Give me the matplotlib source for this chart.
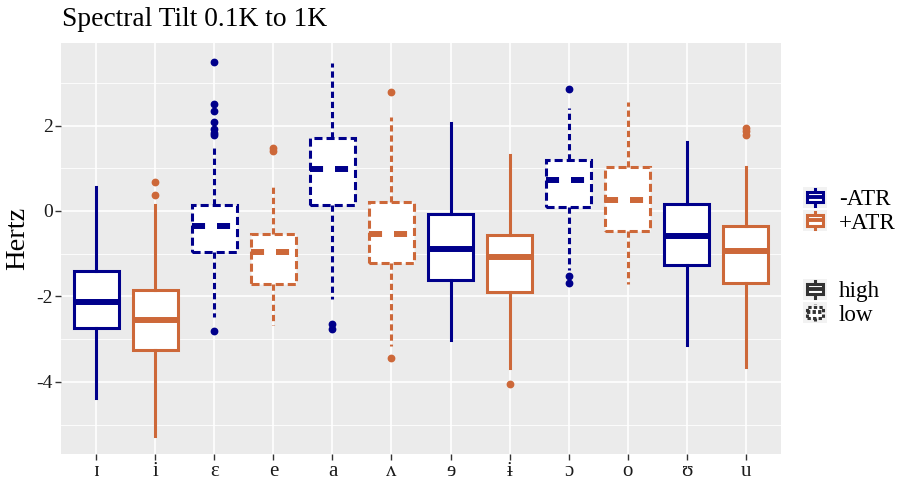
import matplotlib
matplotlib.use("Agg")
import matplotlib.pyplot as plt
from matplotlib.legend_handler import HandlerBase
from matplotlib.patches import Rectangle
from matplotlib.lines import Line2D

plt.rcParams['font.family'] = ['Liberation Serif', 'DejaVu Serif']
plt.rcParams['lines.scale_dashes'] = False

# ---------------- data ----------------
vowels = ['ɪ', 'i', 'ɛ', 'e', 'a', 'ʌ', 'ɘ', 'ɨ', 'ɔ', 'o', 'ʊ', 'u']
atr = ['-ATR', '+ATR', '-ATR', '+ATR', '-ATR', '+ATR',
       '-ATR', '+ATR', '-ATR', '+ATR', '-ATR', '+ATR']
height = ['high', 'high', 'low', 'low', 'low', 'low',
          'high', 'high', 'low', 'low', 'high', 'high']
whislo = [-4.39, -5.27, -2.49, -2.68, -2.05, -3.15, -3.01, -3.68, -1.39, -1.70, -3.13, -3.66]
q1 = [-2.74, -3.25, -0.96, -1.72, 0.13, -1.21, -1.61, -1.90, 0.10, -0.47, -1.26, -1.68]
med = [-2.13, -2.56, -0.35, -0.97, 0.98, -0.53, -0.89, -1.07, 0.72, 0.26, -0.58, -0.94]
q3 = [-1.40, -1.86, 0.13, -0.53, 1.70, 0.20, -0.07, -0.56, 1.19, 1.04, 0.16, -0.35]
whishi = [0.55, 0.14, 1.55, 0.57, 3.46, 2.20, 2.06, 1.32, 2.42, 2.55, 1.61, 1.02]
fliers = [
    [],
    [0.67, 0.38],
    [3.49, 2.51, 2.34, 2.08, 1.91, 1.82, 1.77, -2.82],
    [1.47, 1.40],
    [-2.64, -2.76],
    [2.79, -3.44],
    [],
    [-4.04],
    [2.85, -1.52, -1.69],
    [],
    [],
    [1.95, 1.87, 1.78],
]
yticks = [-4, -2, 0, 2]

colors = {'-ATR': '#00008B', '+ATR': '#CD6839'}
box_dash = (0, (5.8, 2.9))
whisk_dash = (0, (4.5, 2.8))
med_dash = (0, (9.4, 8.6))

fig = plt.figure(figsize=(8.99, 4.80), dpi=100)
ax = fig.add_axes([61/899, 1-454/480, (781-61)/899, (454-42.7)/480])
ax.set_facecolor('#EBEBEB')
for s in ax.spines.values():
    s.set_visible(False)

for k in range(len(vowels)):
    c = colors[atr[k]]
    low = height[k] == 'low'
    st = dict(med=med[k], q1=q1[k], q3=q3[k], whislo=whislo[k], whishi=whishi[k],
              fliers=fliers[k])
    ax.bxp([st], positions=[k + 1], widths=0.75, patch_artist=True, showcaps=False,
           boxprops=dict(facecolor='white', edgecolor=c, linewidth=2.2,
                         linestyle=box_dash if low else '-'),
           whiskerprops=dict(color=c, linewidth=2.2,
                             linestyle=whisk_dash if low else '-'),
           medianprops=dict(color=c, linewidth=4.3,
                            linestyle=med_dash if low else '-', solid_capstyle='butt'),
           flierprops=dict(marker='o', markerfacecolor=c, markeredgecolor=c,
                           markersize=4.6, linestyle='none'),
           zorder=3)

ax.set_xlim(0.4, 12.6)
ax.set_ylim(-5.69, 3.94)
ax.set_xticks(range(1, len(vowels) + 1))
ax.set_xticklabels(vowels, fontsize=15, color='#1a1a1a')
ax.set_yticks(yticks)
ax.set_yticklabels([str(v) for v in yticks], fontsize=14, color='#1a1a1a')
ax.set_yticks([-5, -3, -1, 1, 3], minor=True)
ax.tick_params(axis='both', which='major', length=4, width=1, color='#333333', pad=2)
ax.tick_params(axis='y', which='minor', length=0)
ax.grid(True, which='major', color='white', linewidth=1.2)
ax.grid(True, which='minor', axis='y', color='white', linewidth=0.6)
ax.set_axisbelow(True)

fig.text(62/899, 1-20/480, 'Spectral Tilt 0.1K to 1K', fontsize=19.8, va='center', ha='left')
fig.text(18/899, 1-238/480, 'Hertz', fontsize=20.5, rotation=90, va='center', ha='center')


class BoxKey(HandlerBase):
    def __init__(self, color, dashed):
        super().__init__()
        self.color = color
        self.dashed = dashed

    def create_artists(self, legend, orig_handle, xdescent, ydescent, width, height,
                       fontsize, trans):
        x0, y0 = -xdescent, -ydescent
        ls = (0, (2.4, 1.6)) if self.dashed else '-'
        bg = Rectangle((x0, y0), width, height, facecolor='#F2F2F2', edgecolor='none',
                       transform=trans)
        cx = x0 + width / 2
        wl = Line2D([cx, cx], [y0 + 0.08 * height, y0 + 0.92 * height], color=self.color,
                    linewidth=2.2, linestyle=ls, transform=trans)
        box = Rectangle((x0 + 0.16 * width, y0 + 0.26 * height), 0.68 * width, 0.5 * height,
                        facecolor='white', edgecolor=self.color, linewidth=2.2,
                        linestyle=ls, transform=trans)
        md = Line2D([x0 + 0.16 * width, x0 + 0.84 * width], [y0 + 0.51 * height] * 2,
                    color=self.color, linewidth=2.8, linestyle=ls, transform=trans,
                    solid_capstyle='butt')
        return [bg, wl, box, md]


LFS = 16.7
h1 = [Line2D([], []), Line2D([], [])]
leg1 = fig.legend(h1, ['-ATR', '+ATR'], loc='upper left',
                  bbox_to_anchor=(803/899, 1-187/480), frameon=False, fontsize=LFS,
                  handlelength=1.05, handleheight=1.0, labelspacing=0.0,
                  handletextpad=0.5, borderpad=0, borderaxespad=0,
                  handler_map={h1[0]: BoxKey(colors['-ATR'], False),
                               h1[1]: BoxKey(colors['+ATR'], False)})
h2 = [Line2D([], []), Line2D([], [])]
leg2 = fig.legend(h2, ['high', 'low'], loc='upper left',
                  bbox_to_anchor=(803/899, 1-279/480), frameon=False, fontsize=LFS,
                  handlelength=1.05, handleheight=1.0, labelspacing=0.0,
                  handletextpad=0.5, borderpad=0, borderaxespad=0,
                  handler_map={h2[0]: BoxKey('#333333', False),
                               h2[1]: BoxKey('#333333', True)})

fig.savefig('out.png', dpi=100)
